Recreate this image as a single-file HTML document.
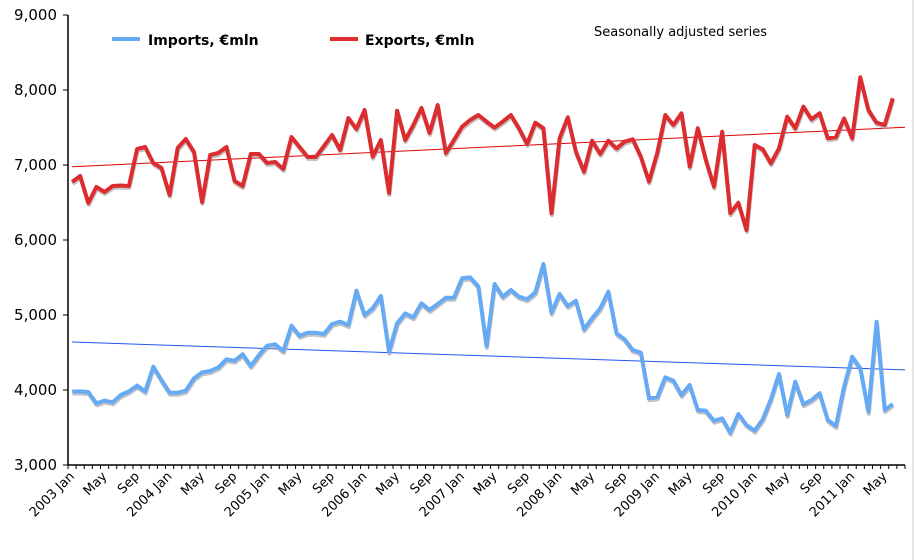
<!DOCTYPE html>
<html><head><meta charset="utf-8"><style>
body{margin:0;background:#fff;}
svg{display:block;font-family:"DejaVu Sans","Liberation Sans",sans-serif;}
</style></head><body>
<svg id="chart" width="914" height="560">
<line x1="913" y1="0" x2="913" y2="560" stroke="#ccc" stroke-width="1"/>
<g id="axes"></g><g id="trend"></g><g id="series"></g>
<g>
<line x1="112" y1="39" x2="140" y2="39" stroke="#66aaf5" stroke-width="4"/>
<text x="148" y="45" font-size="14" font-weight="bold">Imports, €mln</text>
<line x1="330" y1="39" x2="358" y2="39" stroke="#dd2c2f" stroke-width="4"/>
<text x="365" y="45" font-size="14" font-weight="bold">Exports, €mln</text>
</g>
<text x="594" y="36" font-size="13">Seasonally adjusted series</text>
</svg>
<script>
const months=["Jan","Feb","Mar","Apr","May","Jun","Jul","Aug","Sep","Oct","Nov","Dec"];
const yTicks=[3000,4000,5000,6000,7000,8000,9000];
const exportsData=[6773,6853,6493,6707,6640,6720,6727,6720,7213,7240,7027,6960,6600,7227,7347,7173,6507,7133,7160,7240,6787,6720,7147,7147,7027,7040,6947,7373,7240,7107,7107,7253,7400,7200,7627,7480,
7733,7111,7333,6627,7724,7333,7533,7760,7427,7800,7160,7333,7511,7600,7667,7578,7498,7578,7667,7489,7280,7564,7489,6356,7356,7636,7178,6911,7324,7147,7324,7222,7311,7342,
7111,6778,7156,7667,7533,7689,6978,7489,7067,6711,7444,6356,6498,6133,7267,7209,7022,7222,7644,7489,7778,7609,7689,7356,7369,7622,7356,8169,7733,7564,7533,7889];
const importsData=[3978,3982,3973,3822,3858,3836,3933,3982,4058,3982,4311,4133,3964,3964,3991,4156,4236,4253,4302,4409,4391,4476,4320,4467,4591,4609,4520,4857,4724,4764,4764,4747,4880,4911,4867,5324,
5000,5089,5253,4511,4889,5022,4969,5156,5067,5147,5231,5231,5489,5502,5378,4587,5413,5244,5333,5244,5209,5298,5680,5031,5280,5120,5191,4809,4956,5089,5311,4756,4676,4533,
4498,3889,3902,4169,4124,3933,4067,3733,3724,3591,3622,3431,3680,3533,3458,3609,3876,4213,3667,4111,3809,3867,3956,3600,3520,4044,4444,4289,3711,4911,3733,3813];
const nCats=103;
const X0=68,X1=905,Y0=465,Y1=15,vMin=3000,vMax=9000;
const bw=(X1-X0)/nCats;
const xs=i=>X0+bw*(i+0.5);
const ys=v=>Y0-(v-vMin)/(vMax-vMin)*(Y0-Y1);
const NS="http://www.w3.org/2000/svg";
function mk(tag,attrs,parent){const e=document.createElementNS(NS,tag);for(const k in attrs)e.setAttribute(k,attrs[k]);parent.appendChild(e);return e;}
const axes=document.getElementById('axes');
let el=mk('line',{x1:X0,y1:Y1,x2:X0,y2:Y0,stroke:'#000','stroke-width':1.5},axes);


el=mk('line',{x1:X0,y1:Y0,x2:X1,y2:Y0,stroke:'#000','stroke-width':1.5},axes);


yTicks.forEach(v=>{
  mk('line',{x1:X0-5,y1:ys(v),x2:X0,y2:ys(v),stroke:'#000'},axes);
  const t=mk('text',{x:X0-11,y:ys(v)+5,'font-size':15,'text-anchor':'end'},axes);
  t.textContent=v.toLocaleString('en-US');
  
  
});
for(let i=0;i<=nCats;i++){mk('line',{x1:X0+bw*i,y1:Y0,x2:X0+bw*i,y2:Y0+4,stroke:'#000'},axes);}
for(let i=0;i<nCats;i+=4){
  const m=i%12,yr=2003+Math.floor(i/12);
  const lbl=m===0?yr+" "+months[m]:months[m];
  const x=xs(i)+3,y=Y0+12;
  const t=mk('text',{x:x,y:y,'font-size':13,'text-anchor':'end',transform:`rotate(-45 ${x} ${y})`},axes);
  t.textContent=lbl;
  
  
}
function fit(d){const n=d.length;let sx=0,sy=0,sxx=0,sxy=0;d.forEach((v,i)=>{sx+=i;sy+=v;sxx+=i*i;sxy+=i*v;});const b=(n*sxy-sx*sy)/(n*sxx-sx*sx);return [ (sy-b*sx)/n,b];}
const trend=document.getElementById('trend');
[[exportsData,'#e00000','exports-trendline'],[importsData,'#2255ee','imports-trendline']].forEach(([d,c,n])=>{
  const [a,b]=fit(d);const xe=(X1-xs(0))/bw;
  const l=mk('line',{x1:xs(0),y1:ys(a),x2:X1,y2:ys(a+b*xe),stroke:c,'stroke-width':1},trend);
  
  
});
const series=document.getElementById('series');
[[importsData,'#66aaf5','imports-line'],[exportsData,'#dd2c2f','exports-line']].forEach(([d,c,n])=>{
  const pts=d.map((v,i)=>xs(i).toFixed(1)+","+ys(v).toFixed(1)).join(" ");
  const s=mk('polyline',{points:pts,fill:'none',stroke:'#999','stroke-opacity':0.6,'stroke-width':4,'stroke-linejoin':'round',transform:'translate(0.5,2)'},series);
  
  
  const p=mk('polyline',{points:pts,fill:'none',stroke:c,'stroke-width':4,'stroke-linejoin':'round'},series);
  
  
});
</script>
</body></html>
